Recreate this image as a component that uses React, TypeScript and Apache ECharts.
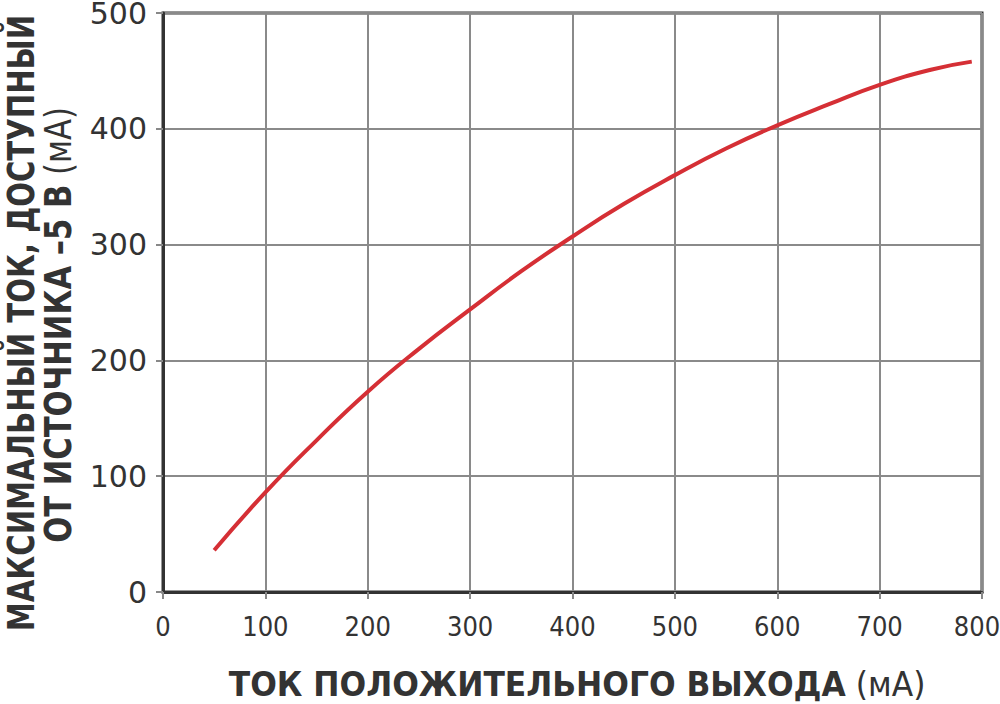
import React, { useEffect, useRef } from "react";
import * as echarts from "echarts";

const xCurrent = [50, 100, 150, 200, 250, 300, 350, 400, 450, 500, 550, 600, 650, 700, 750, 790];
const yCurrent = [36, 86, 131, 173, 210, 244, 277, 307, 335, 360, 383, 403, 421, 438, 451, 458];
const xTicks = [0, 100, 200, 300, 400, 500, 600, 700, 800];
const yTicks = [0, 100, 200, 300, 400, 500];

const yTitle1 = "МАКСИМАЛЬНЫЙ ТОК, ДОСТУПНЫЙ";
const yTitle2Bold = "ОТ ИСТОЧНИКА –5 В";
const unitText = " (мА)";
const xTitleBold = "ТОК ПОЛОЖИТЕЛЬНОГО ВЫХОДА";

const COND = "DejaVu Sans Condensed";
const TXT = "#333333";

function richStyles(size: number) {
  return {
    b: { fontFamily: COND, fontWeight: "bold", fontSize: size, fill: TXT, lineHeight: size },
    n: { fontFamily: COND, fontWeight: "normal", fontSize: size, fill: TXT, lineHeight: size },
  };
}

function measure(text: string, size: number) {
  const t = new echarts.graphic.Text({
    style: { text, rich: richStyles(size) as any, fontFamily: COND, fontSize: size },
  });
  return t.getBoundingRect().width;
}

function titleText(text: string, size: number, cx: number, cy: number, target: number, vertical: boolean) {
  const w = measure(text, size);
  return {
    type: "text",
    x: cx,
    y: cy,
    rotation: vertical ? Math.PI / 2 : 0,
    scaleX: target / w,
    scaleY: 1,
    style: {
      text,
      rich: richStyles(size),
      fontFamily: COND,
      fontSize: size,
      lineHeight: size,
      fill: TXT,
      align: "center",
      verticalAlign: "middle",
    },
    silent: true,
  };
}

export default function App() {
  const ref = useRef<HTMLDivElement>(null);
  useEffect(() => {
    document.body.style.margin = "0";
    const chart = echarts.init(ref.current!, null, { renderer: "svg" });
    const data = xCurrent.map((x, i) => [x, yCurrent[i]]);
    const xMax = xTicks[xTicks.length - 1];
    chart.setOption({
      animation: false,
      backgroundColor: "#ffffff",
      grid: {
        left: 163,
        top: 13,
        right: 18,
        bottom: 112,
        outerBoundsMode: "none",
        containLabel: false,
        show: true,
        borderColor: "#333333",
        borderWidth: 3,
      },
      xAxis: {
        type: "value",
        min: xTicks[0],
        max: xMax,
        interval: 100,
        axisLine: { show: true, lineStyle: { color: "#333333", width: 3 } },
        axisTick: { show: true, length: 7, lineStyle: { color: "#888888", width: 2 } },
        splitLine: { show: true, lineStyle: { color: "#8a8a8a", width: 2 } },
        axisLabel: {
          margin: 21,
          fontFamily: COND,
          fontSize: 27,
          color: TXT,
          formatter: (v: number) => (v === xMax ? `{last|${v}}` : `${v}`),
          rich: {
            last: { fontFamily: COND, fontSize: 27, color: TXT, padding: [0, 10, 0, 0] },
          },
        },
      },
      yAxis: {
        type: "value",
        min: yTicks[0],
        max: yTicks[yTicks.length - 1],
        interval: 100,
        axisLine: { show: true, lineStyle: { color: "#333333", width: 3 } },
        axisTick: { show: true, length: 7, lineStyle: { color: "#888888", width: 2 } },
        splitLine: { show: true, lineStyle: { color: "#8a8a8a", width: 2 } },
        axisLabel: {
          margin: 16,
          fontFamily: "DejaVu Sans",
          fontSize: 30,
          lineHeight: 26,
          color: TXT,
        },
      },
      graphic: [
        titleText(`{b|${yTitle1}}`, 37, 21, 323, 617, true),
        titleText(`{b|${yTitle2Bold}}{n|${unitText}}`, 37, 58, 325, 436, true),
        titleText(`{b|${xTitleBold}}{n|${unitText}}`, 34, 577, 684, 697, false),
      ],
      series: [
        {
          type: "line",
          data,
          smooth: true,
          showSymbol: false,
          lineStyle: { color: "#d52f35", width: 4 },
        },
      ],
    });
    return () => chart.dispose();
  }, []);
  return <div ref={ref} style={{ position: "fixed", left: 0, top: 0, width: 1000, height: 704 }} />;
}
